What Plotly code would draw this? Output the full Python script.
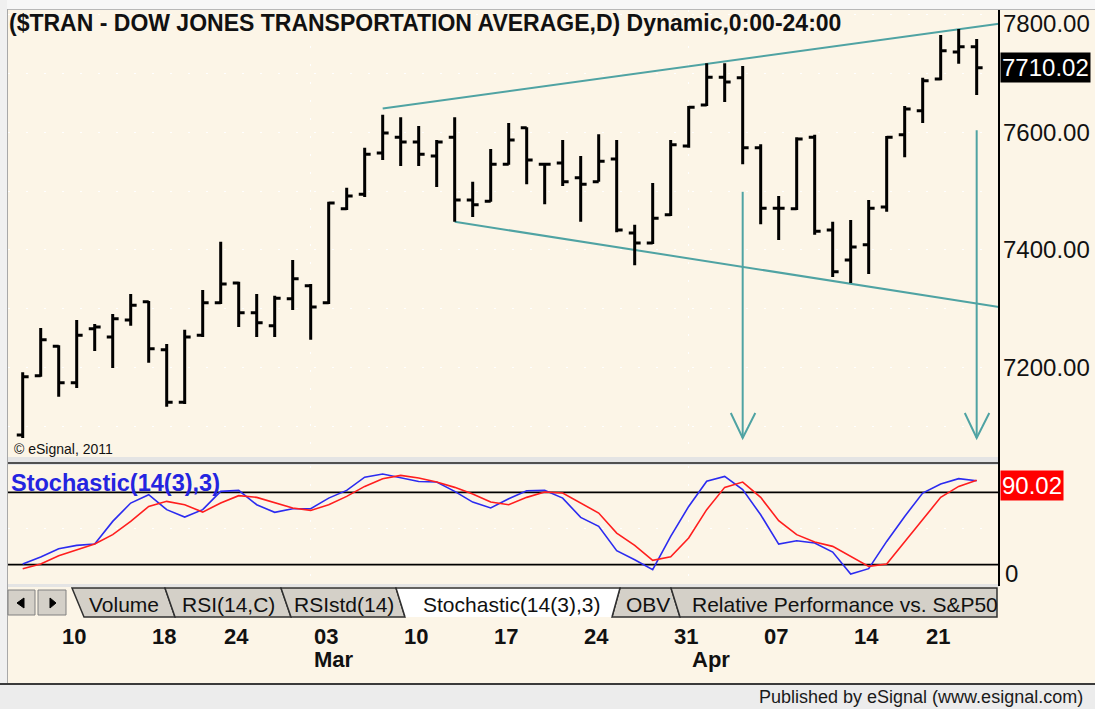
import datetime as dt
import plotly.graph_objects as go

# ---------------- data ----------------
dates = ["2014-02-06", "2014-02-07", "2014-02-10", "2014-02-11", "2014-02-12", "2014-02-13",
         "2014-02-14", "2014-02-18", "2014-02-19", "2014-02-20", "2014-02-21", "2014-02-24",
         "2014-02-25", "2014-02-26", "2014-02-27", "2014-02-28", "2014-03-03", "2014-03-04",
         "2014-03-05", "2014-03-06", "2014-03-07", "2014-03-10", "2014-03-11", "2014-03-12",
         "2014-03-13", "2014-03-14", "2014-03-17", "2014-03-18", "2014-03-19", "2014-03-20",
         "2014-03-21", "2014-03-24", "2014-03-25", "2014-03-26", "2014-03-27", "2014-03-28",
         "2014-03-31", "2014-04-01", "2014-04-02", "2014-04-03", "2014-04-04", "2014-04-07",
         "2014-04-08", "2014-04-09", "2014-04-10", "2014-04-11", "2014-04-14", "2014-04-15",
         "2014-04-16", "2014-04-17", "2014-04-21", "2014-04-22", "2014-04-23", "2014-04-24"]

opens = [7085, 7186, 7236, 7174, 7266, 7252, 7281, 7312, 7230, 7141,
         7255, 7310, 7344, 7293, 7271, 7317, 7339, 7310, 7470, 7495,
         7565, 7592, 7584, 7560, 7592, 7485, 7483, 7546, 7608, 7546,
         7548, 7523, 7516, 7555, 7429, 7412, 7460, 7577, 7647, 7694,
         7693, 7574, 7471, 7470, 7592, 7434, 7383, 7409, 7473, 7596,
         7637, 7691, 7737, 7746]
highs = [7192, 7267, 7238, 7281, 7274, 7291, 7325, 7313, 7240, 7264,
         7332, 7414, 7346, 7325, 7322, 7383, 7342, 7482, 7506, 7574,
         7630, 7626, 7611, 7587, 7626, 7516, 7572, 7616, 7609, 7548,
         7587, 7560, 7597, 7587, 7443, 7514, 7587, 7645, 7718, 7718,
         7713, 7580, 7492, 7592, 7596, 7448, 7451, 7485, 7594, 7645,
         7693, 7766, 7776, 7759]
lows = [7080, 7184, 7150, 7165, 7228, 7199, 7271, 7208, 7133, 7138,
        7252, 7308, 7269, 7252, 7252, 7298, 7247, 7308, 7468, 7490,
        7553, 7543, 7543, 7507, 7448, 7456, 7482, 7545, 7512, 7478,
        7509, 7448, 7516, 7430, 7374, 7410, 7458, 7574, 7645, 7652,
        7546, 7444, 7417, 7468, 7426, 7354, 7344, 7359, 7465, 7558,
        7616, 7689, 7717, 7664]
closes = [7184, 7247, 7174, 7255, 7269, 7283, 7306, 7232, 7141, 7252,
          7310, 7342, 7293, 7276, 7318, 7351, 7303, 7480, 7492, 7563,
          7599, 7584, 7563, 7584, 7485, 7477, 7546, 7587, 7553, 7546,
          7516, 7512, 7551, 7434, 7412, 7454, 7579, 7643, 7694, 7686,
          7574, 7471, 7471, 7589, 7432, 7363, 7405, 7471, 7592, 7640,
          7688, 7739, 7746, 7710.02]

stoch_k = [20.6, 26.4, 33.3, 36.0, 37.1, 55.9, 71.1, 78.0, 65.6, 59.5,
           65.6, 80.8, 81.6, 69.7, 63.4, 66.4, 66.4, 75.2, 81.6, 92.5,
           95.1, 92.0, 89.0, 88.5, 80.8, 71.9, 67.0, 74.7, 81.3, 81.6,
           75.2, 59.2, 51.8, 31.6, 24.1, 15.9, 43.5, 68.3, 89.1, 93.2,
           82.2, 61.4, 37.1, 39.9, 38.0, 30.5, 12.3, 16.7, 39.3, 60.0,
           79.4, 86.9, 91.3, 89.6]
stoch_d = [16.7, 20.6, 27.5, 32.4, 37.1, 44.9, 55.9, 68.3, 72.5, 69.7,
           63.6, 71.1, 77.2, 75.8, 71.1, 67.0, 65.0, 69.7, 76.6, 84.9,
           91.3, 94.0, 91.8, 88.5, 84.1, 78.6, 71.9, 69.7, 75.8, 80.2,
           79.4, 71.1, 62.8, 46.2, 36.0, 23.6, 26.6, 42.1, 65.6, 84.1,
           88.5, 75.8, 56.5, 44.9, 38.8, 35.2, 26.9, 18.6, 20.6, 39.3,
           57.3, 75.8, 84.9, 90.02]
stoch_levels = [20, 80]

price_labels = [7200, 7400, 7600, 7800]

# drawn annotations (trend channel and target arrows), in bar-index / price units
upper_trend_x = [20, 54.24]
upper_trend_y = [7641, 7785]
lower_trend_x = [24, 54.24]
lower_trend_y = [7448, 7303]
arrow_x = [40, 53]
arrow_top = [7499, 7604]
arrow_tip = 7080

title = "($TRAN - DOW JONES TRANSPORTATION AVERAGE,D) Dynamic,0:00-24:00"
tabs = ["Volume", "RSI(14,C)", "RSIstd(14)", "Stochastic(14(3),3)", "OBV",
        "Relative Performance vs. S&amp;P50"]

# ---------------- helpers ----------------
W, H = 1095, 709
FONT = "Arial, Liberation Sans, sans-serif"
CREAM = "#FCF5E7"
TEAL = "#4FA3A3"


def PX(x):
    return x / W


def PY(y):
    return 1 - y / H


idx = list(range(len(dates)))
dd = [dt.date.fromisoformat(d) for d in dates]
week_starts = [i for i in range(1, len(dd)) if dd[i].isocalendar()[1] != dd[i - 1].isocalendar()[1]]
month_starts = [i for i in range(1, len(dd)) if dd[i].month != dd[i - 1].month]

fig = go.Figure()
fig.add_trace(go.Ohlc(x=idx, open=opens, high=highs, low=lows, close=closes,
                      increasing=dict(line=dict(color="black", width=3)),
                      decreasing=dict(line=dict(color="black", width=3)),
                      tickwidth=0.33, xaxis="x", yaxis="y", hoverinfo="skip",
                      showlegend=False))
fig.add_trace(go.Scatter(x=idx, y=stoch_k, mode="lines", xaxis="x", yaxis="y2",
                         line=dict(color="#2B2BF0", width=1.6), showlegend=False,
                         hoverinfo="skip"))
fig.add_trace(go.Scatter(x=idx, y=stoch_d, mode="lines", xaxis="x", yaxis="y2",
                         line=dict(color="#FF1E1E", width=1.6), showlegend=False,
                         hoverinfo="skip"))

shapes = []


def rect(x0, y0, x1, y1, fill, line=None, lw=0, layer="below"):
    shapes.append(dict(type="rect", xref="paper", yref="paper", x0=PX(x0), x1=PX(x1),
                       y0=PY(y1), y1=PY(y0), fillcolor=fill, layer=layer,
                       line=dict(color=line or fill, width=lw)))


def pline(x0, y0, x1, y1, color, w, layer="above"):
    shapes.append(dict(type="line", xref="paper", yref="paper", x0=PX(x0), x1=PX(x1),
                       y0=PY(y0), y1=PY(y1), layer=layer, line=dict(color=color, width=w)))


def ppath(pts, fill, color, w, closed=True, layer="above"):
    d = "M " + " L ".join(f"{PX(x):.5f},{PY(y):.5f}" for x, y in pts)
    if closed:
        d += " Z"
    shapes.append(dict(type="path", xref="paper", yref="paper", path=d, fillcolor=fill,
                       layer=layer, line=dict(color=color, width=w)))


# frame pieces
rect(0, 0, 1095, 9, "#F7F7F7")
pline(0, 9.5, 1095, 9.5, "#B8B8B8", 1, layer="below")
rect(0, 0, 7, 709, "#F0F0F0")
pline(7.5, 9, 7.5, 684, "#A8A8A8", 1, layer="below")
rect(8, 457, 999, 465, "#E4E4E4")
pline(8, 463, 999, 463, "#505050", 2)
rect(8, 584, 999, 587, "#E4E4E4")
rect(0, 685, 1095, 709, "#ECECEC")
pline(0, 684, 1095, 684, "#3A3A3A", 2)
pline(999, 10, 999, 586, "black", 2)

# tab strip
rect(8, 590, 35, 615, "#D4D0C8", "#808080", 1, layer="above")
rect(38, 590, 66, 615, "#D4D0C8", "#808080", 1, layer="above")
ppath([(17, 603), (24, 598), (24, 608)], "black", "black", 1)
ppath([(50, 598), (50, 608), (56, 603)], "black", "black", 1)
tab_geo = [((72, 165), (84, 175)), ((165, 281), (175, 291)), ((281, 396), (291, 405)),
           ((396, 620), (405, 612)), ((620, 671), (612, 680)), ((671, 997), (680, 997))]
active = 3
for i, ((tl, tr), (bl, br)) in enumerate(tab_geo):
    if i == active:
        continue
    ppath([(bl, 617), (tl, 588), (tr, 588), (br, 617)], "#D4D0C8", "#303030", 1.5)
(tl, tr), (bl, br) = tab_geo[active]
ppath([(bl, 617), (tl, 588), (tr, 588), (br, 617)], "white", "#303030", 1.5, closed=False)

# stochastic guide levels
for lv in stoch_levels:
    shapes.append(dict(type="line", xref="paper", yref="y2", x0=PX(8), x1=PX(999),
                       y0=lv, y1=lv, layer="between", line=dict(color="black", width=1.8)))

# trend channel
shapes.append(dict(type="line", xref="x", yref="y", x0=upper_trend_x[0], x1=upper_trend_x[1],
                   y0=upper_trend_y[0], y1=upper_trend_y[1], layer="between",
                   line=dict(color=TEAL, width=2)))
shapes.append(dict(type="line", xref="x", yref="y", x0=lower_trend_x[0], x1=lower_trend_x[1],
                   y0=lower_trend_y[0], y1=lower_trend_y[1], layer="between",
                   line=dict(color=TEAL, width=2)))
# target arrows
for ax, at in zip(arrow_x, arrow_top):
    shapes.append(dict(type="line", xref="x", yref="y", x0=ax, x1=ax, y0=at, y1=arrow_tip,
                       line=dict(color=TEAL, width=2)))
    shapes.append(dict(type="path", xref="x", yref="y",
                       path=f"M {ax - 0.66},{arrow_tip + 42.5} L {ax},{arrow_tip} L {ax + 0.7},{arrow_tip + 42.5}",
                       line=dict(color=TEAL, width=2)))

annotations = []


def text(x, y, s, size, color="#111111", xanchor="left", xref="paper", yref="paper", **kw):
    annotations.append(dict(x=x, y=y, xref=xref, yref=yref, text=s, showarrow=False,
                            xanchor=xanchor, yanchor="middle",
                            font=dict(family=FONT, size=size, color=color), **kw))


text(PX(7), PY(23), f"<b>{title}</b>", 23)
text(PX(12), PY(448.5), "© eSignal, 2011", 14)
for v in price_labels:
    text(PX(1001), v, f"{v:.2f}", 24, yref="y", yshift=(-9 if v == max(price_labels) else 0))
text(PX(999.5), closes[-1], f"{closes[-1]:.2f}", 24, color="white", yref="y",
     bgcolor="black", borderpad=1)
text(PX(1000), stoch_d[-1], f"{stoch_d[-1]:.2f}", 24, color="white", yref="y2",
     bgcolor="#FF0000", borderpad=1, yshift=-5)
text(PX(1003), PY(573), "0", 24)
text(PX(9), PY(483), "<b>Stochastic(14(3),3)</b>", 23.5, color="#2424E0")

# tab labels
tab_centers = [123.5, 228, 344, 511, 647.5]
for name, cx in zip(tabs[:5], tab_centers):
    text(PX(cx), PY(604), name, 21, xanchor="center")
text(PX(690), PY(604), tabs[5], 21)

# date labels
for i in week_starts:
    text(i, PY(636), f"<b>{dd[i].day:02d}</b>", 22, color="#111111", xref="x", xshift=1)
for i in month_starts:
    text(i, PY(659), f"<b>{dd[i].strftime('%b')}</b>", 22, color="#111111", xref="x", xshift=1)

text(PX(1085), PY(697), "Published by eSignal (www.esignal.com)", 18, color="#1A1A1A",
     xanchor="right")

grid = dict(gridcolor="white", griddash="2px,16px", gridwidth=1.2)
fig.update_layout(
    width=W, height=H, autosize=False,
    margin=dict(l=0, r=0, t=0, b=0),
    paper_bgcolor=CREAM, plot_bgcolor=CREAM,
    showlegend=False,
    xaxis=dict(domain=[PX(8), PX(999)], range=[-0.8167, 54.24], tickvals=month_starts,
               showticklabels=False, ticks="", showline=False, zeroline=False,
               rangeslider=dict(visible=False), anchor="y2", fixedrange=True, **grid),
    yaxis=dict(domain=[PY(458), PY(10)], range=[7045.9, 7808.5],
               tickvals=list(range(7100, 7900, 100)), showticklabels=False, ticks="",
               zeroline=False, showline=False, anchor="x", fixedrange=True, **grid),
    yaxis2=dict(domain=[PY(585), PY(466)], range=[3.18, 101.8], tickvals=[50],
                showticklabels=False, ticks="", zeroline=False, showline=False,
                anchor="x", fixedrange=True, **grid),
    shapes=shapes,
    annotations=annotations,
)

fig.write_html("out.html", config={"displayModeBar": False},
               post_script="document.body.style.margin='0';document.body.style.overflow='hidden';")
